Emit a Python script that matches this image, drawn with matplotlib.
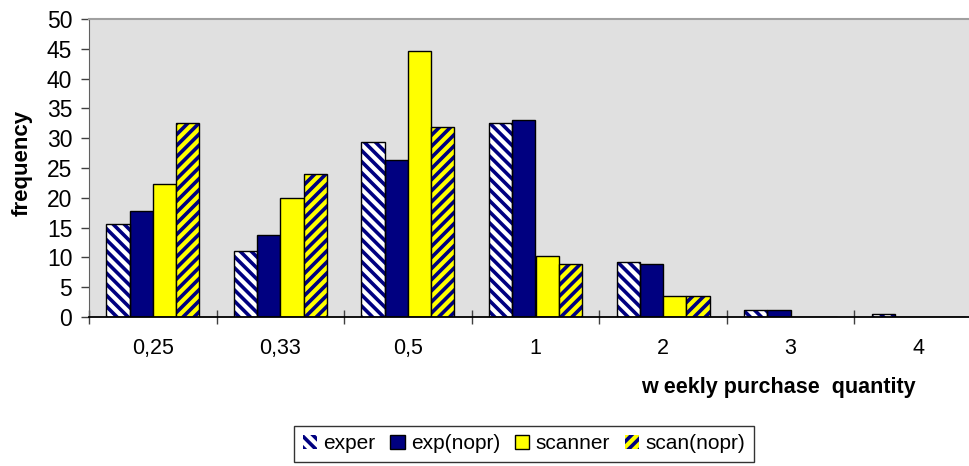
import numpy as np
import matplotlib
matplotlib.use("Agg")
import matplotlib.pyplot as plt
from matplotlib.patches import Patch

# data
categories = ["0,25", "0,33", "0,5", "1", "2", "3", "4"]
exper = [15.6, 11.1, 29.4, 32.6, 9.3, 1.2, 0.45]
exp_nopr = [17.8, 13.8, 26.3, 33.1, 8.9, 1.2, 0]
scanner = [22.3, 20.0, 44.7, 10.2, 3.5, 0, 0]
scan_nopr = [32.6, 24.0, 31.8, 8.9, 3.6, 0, 0]
series_names = ["exper", "exp(nopr)", "scanner", "scan(nopr)"]

plt.rcParams['font.family'] = ['Liberation Sans', 'DejaVu Sans']
plt.rcParams['hatch.linewidth'] = 2.6

fig = plt.figure(figsize=(9.7, 4.66), dpi=100)
ax = fig.add_axes([89/970, 1-317/466, (982-89)/970, (317-19)/466])
ax.set_facecolor('#E0E0E0')

x = np.arange(len(categories))
w = 0.182
navy = '#000080'
yellow = '#FFFF00'

# hatched bars: fill + navy hatch, then black outline on top
ax.bar(x - 1.5*w, exper, w, color='white', edgecolor=navy, linewidth=0, hatch='\\\\\\', zorder=2)
ax.bar(x - 1.5*w, exper, w, fill=False, edgecolor='black', linewidth=1, zorder=3)
ax.bar(x - 0.5*w, exp_nopr, w, color=navy, edgecolor='black', linewidth=1, zorder=2)
ax.bar(x + 0.5*w, scanner, w, color=yellow, edgecolor='black', linewidth=1, zorder=2)
ax.bar(x + 1.5*w, scan_nopr, w, color=yellow, edgecolor=navy, linewidth=0, hatch='///', zorder=2)
ax.bar(x + 1.5*w, scan_nopr, w, fill=False, edgecolor='black', linewidth=1, zorder=3)

ax.set_xlim(-0.5, len(categories) - 0.5)
ax.set_ylim(0, 50)
ax.set_yticks(np.arange(0, 51, 5))
ax.tick_params(axis='y', labelsize=16.5, direction='out', length=6, width=1, color='#404040', pad=6)

ax.set_xticks(x)
ax.set_xticklabels(categories)
ax.set_xticks(np.arange(-0.5, len(categories), 1), minor=True)
ax.tick_params(axis='x', which='major', length=0, labelsize=15.5, pad=15)
ax.tick_params(axis='x', which='minor', direction='inout', length=10, width=1, color='#404040')

ax.spines['right'].set_visible(False)
ax.spines['top'].set_color('#A0A0A0')
ax.spines['top'].set_linewidth(1.5)
ax.spines['left'].set_color('#606060')
ax.spines['bottom'].set_color('black')
ax.spines['bottom'].set_linewidth(1.3)

fig.text(22/970, 1-163/466, "frequency", rotation=90, fontsize=16, fontweight='bold',
         ha='center', va='center')
fig.text(778/970, 1-388/466, "w eekly purchase  quantity", fontsize=15.5, fontweight='bold',
         ha='center', va='center')

handles = [
    Patch(facecolor='white', edgecolor=navy, linewidth=0, hatch='\\\\\\'),
    Patch(facecolor=navy, edgecolor='black'),
    Patch(facecolor=yellow, edgecolor='black'),
    Patch(facecolor=yellow, edgecolor=navy, linewidth=0, hatch='///'),
]
leg = fig.legend(handles, series_names, loc='upper center', bbox_to_anchor=(524/970, 1-426/466),
                 ncol=4, fontsize=15, frameon=True, fancybox=False, handlelength=0.7,
                 handleheight=0.7, handletextpad=0.3, columnspacing=0.7, borderpad=0.4,
                 borderaxespad=0)
leg.get_frame().set_edgecolor('black')
leg.get_frame().set_linewidth(1)

fig.savefig("out.png", dpi=100)
